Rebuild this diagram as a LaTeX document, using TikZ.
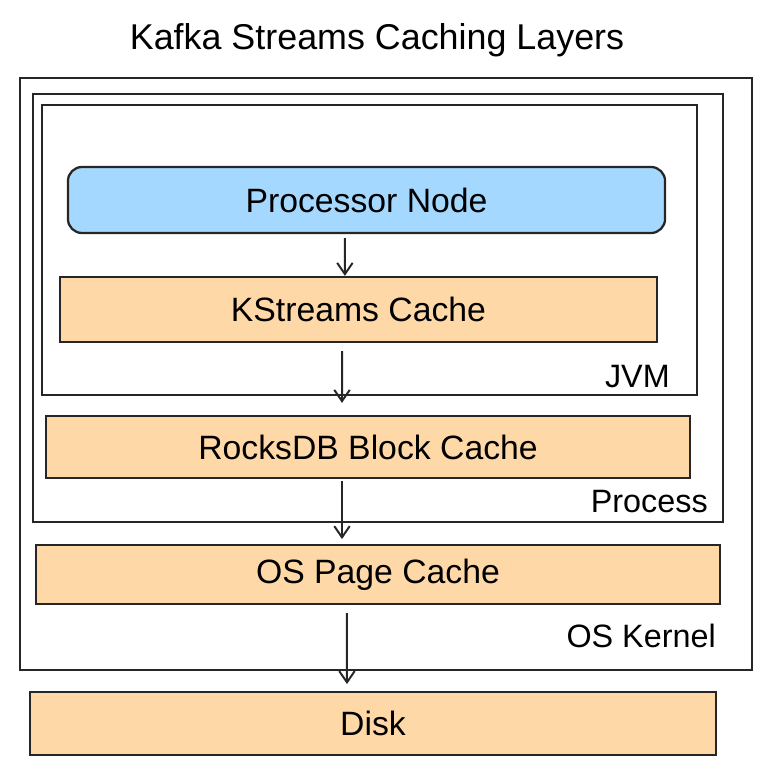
\documentclass[tikz,border=0pt]{standalone}
\usepackage{fontspec}
\setmainfont{Liberation Sans}
\usepackage{tikz}
\usetikzlibrary{arrows.meta,calc,positioning}
\definecolor{procblue}{HTML}{A5D8FF}
\definecolor{cacheorange}{HTML}{FFD8A8}
\tikzset{
    layer/.style={draw=black!85,line width=1.6pt,rectangle,inner sep=0pt,
        font=\fontsize{24}{28}\selectfont},
    cachebox/.style={layer,fill=cacheorange},
    flow/.style={draw=black!85,line width=1.4pt,-{Straight Barb[length=8pt,width=11pt,line width=1.4pt]}},
    frame/.style={draw=black!85,line width=1.6pt},
    framelabel/.style={anchor=east,inner sep=0pt,font=\fontsize{23}{27}\selectfont}
}
\begin{document}
\begin{tikzpicture}[x=0.025cm,y=-0.025cm]
    \useasboundingbox (0,0) rectangle (773,773);
    %% Title
    \node[inner sep=0pt,font=\fontsize{25.5}{30}\selectfont] (title) at (377,40) {Kafka Streams Caching Layers};
    %% Nested frames
    \draw[frame] (20,78) rectangle (752,670);
    \draw[frame] (33,94) rectangle (723,522);
    \draw[frame] (42,105) rectangle (697,395);
    \node[framelabel] (jvm) at (670,377) {JVM};
    \node[framelabel] (process) at (708,502) {Process};
    \node[framelabel] (kernel) at (716,636) {OS Kernel};
    %% Caching layers
    \node[layer,fill=procblue,rounded corners=10pt,minimum width=14.925cm,minimum height=1.65cm] (proc) at (366.5,200) {Processor Node};
    \node[cachebox,minimum width=14.925cm,minimum height=1.625cm] (kcache) at (358.5,309.5) {KStreams Cache};
    \node[cachebox,minimum width=16.1cm,minimum height=1.55cm] (rocks) at (368,447) {RocksDB Block Cache};
    \node[cachebox,minimum width=17.1cm,minimum height=1.475cm] (page) at (378,574.5) {OS Page Cache};
    \node[cachebox,minimum width=17.15cm,minimum height=1.575cm] (disk) at (373,723.5) {Disk};
    %% Arrows between layers
    \draw[flow] ([xshift=-0.54cm,yshift=-0.1cm]proc.south) -- ([xshift=-0.34cm]kcache.north);
    \draw[flow] ([xshift=-0.41cm,yshift=-0.2cm]kcache.south) -- ([xshift=-0.65cm,yshift=0.3cm]rocks.north);
    \draw[flow] ([xshift=-0.65cm,yshift=-0.05cm]rocks.south) -- ([xshift=-0.9cm,yshift=0.12cm]page.north);
    \draw[flow] ([xshift=-0.78cm,yshift=-0.2cm]page.south) -- ([xshift=-0.65cm,yshift=0.17cm]disk.north);
\end{tikzpicture}
\end{document}
